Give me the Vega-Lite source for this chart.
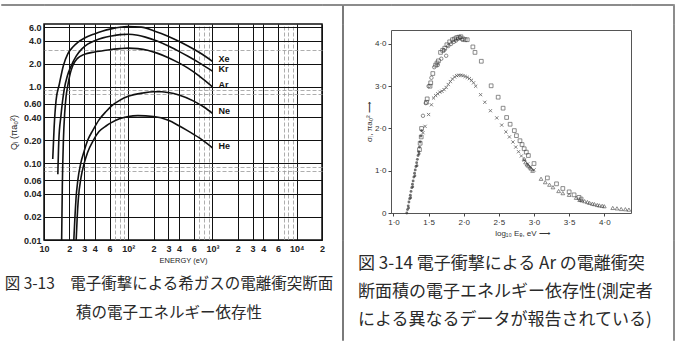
{
  "$schema": "https://vega.github.io/schema/vega-lite/v6.json",
  "padding": {"left": 0, "top": 3, "right": 0, "bottom": 0},
  "columns": 8,
  "spacing": 0,
  "bounds": "flush",
  "align": "each",
  "config": {
    "view": {"stroke": null},
    "axis": {"labelFont": "Liberation Sans", "titleFont": "Liberation Sans"}
  },
  "concat": [
    {"width": 43, "height": 1, "data": {"values": [{}]}, "mark": {"type": "text", "text": "", "fontSize": 0}, "encoding": {}, "view": {"stroke": "#8c8c8c"}},
    {"width": 278, "height": 1, "data": {"values": [{}]}, "mark": {"type": "text", "text": "", "fontSize": 0}, "encoding": {}, "view": {"stroke": "#8c8c8c"}},
    {"width": 20, "height": 1, "data": {"values": [{}]}, "mark": {"type": "text", "text": "", "fontSize": 0}, "encoding": {}, "view": {"stroke": "#8c8c8c"}},
    {"width": 1, "height": 1, "data": {"values": [{}]}, "mark": {"type": "text", "text": "", "fontSize": 0}, "encoding": {}, "view": {"stroke": "#8c8c8c"}},
    {"width": 48, "height": 1, "data": {"values": [{}]}, "mark": {"type": "text", "text": "", "fontSize": 0}, "encoding": {}, "view": {"stroke": "#8c8c8c"}},
    {"width": 240, "height": 1, "data": {"values": [{}]}, "mark": {"type": "text", "text": "", "fontSize": 0}, "encoding": {}, "view": {"stroke": "#8c8c8c"}},
    {"width": 42, "height": 1, "data": {"values": [{}]}, "mark": {"type": "text", "text": "", "fontSize": 0}, "encoding": {}, "view": {"stroke": "#8c8c8c"}},
    {"width": 1, "height": 1, "data": {"values": [{}]}, "mark": {"type": "text", "text": "", "fontSize": 0}, "encoding": {}, "view": {"stroke": "#8c8c8c"}},

    {"width": 43, "height": 19, "data": {"values": [{}]}, "mark": {"type": "text", "text": "", "fontSize": 0}, "encoding": {}},
    {"width": 278, "height": 19, "data": {"values": [{}]}, "mark": {"type": "text", "text": "", "fontSize": 0}, "encoding": {}},
    {"width": 20, "height": 19, "data": {"values": [{}]}, "mark": {"type": "text", "text": "", "fontSize": 0}, "encoding": {}},
    {"width": 1, "height": 19, "data": {"values": [{}]}, "mark": {"type": "text", "text": "", "fontSize": 0}, "encoding": {}, "view": {"stroke": "#7a7a7a"}},
    {"width": 48, "height": 19, "data": {"values": [{}]}, "mark": {"type": "text", "text": "", "fontSize": 0}, "encoding": {}},
    {"width": 240, "height": 19, "data": {"values": [{}]}, "mark": {"type": "text", "text": "", "fontSize": 0}, "encoding": {}},
    {"width": 42, "height": 19, "data": {"values": [{}]}, "mark": {"type": "text", "text": "", "fontSize": 0}, "encoding": {}},
    {"width": 1, "height": 19, "data": {"values": [{}]}, "mark": {"type": "text", "text": "", "fontSize": 0}, "encoding": {}, "view": {"stroke": "#8c8c8c"}},

    {"width": 43, "height": 216, "data": {"values": [{}]}, "mark": {"type": "text", "text": "", "fontSize": 0}, "encoding": {}},
    {
      "width": 278,
      "height": 216,
      "view": {"stroke": "#111", "strokeWidth": 1.5},
      "title": {
        "text": ["図 3-13　電子衝撃による希ガスの電離衝突断面", "積の電子エネルギー依存性"],
        "orient": "bottom", "anchor": "middle", "frame": "group", "dx": -14, "offset": 13,
        "font": "Noto Sans CJK JP", "fontSize": 15.5, "fontWeight": "normal", "lineHeight": 29, "color": "#2a2a2a"
      },
      "data": {"values": [
        {"gas": "Xe", "E": 12.7, "Q": 0.114}, {"gas": "Xe", "E": 13.2, "Q": 0.3}, {"gas": "Xe", "E": 13.9, "Q": 0.66}, {"gas": "Xe", "E": 15.2, "Q": 1.08}, {"gas": "Xe", "E": 17, "Q": 1.9}, {"gas": "Xe", "E": 19.1, "Q": 2.67}, {"gas": "Xe", "E": 22, "Q": 3.3}, {"gas": "Xe", "E": 25.2, "Q": 3.8}, {"gas": "Xe", "E": 30, "Q": 4.3}, {"gas": "Xe", "E": 39.7, "Q": 4.9}, {"gas": "Xe", "E": 50, "Q": 5.35}, {"gas": "Xe", "E": 62.7, "Q": 5.7}, {"gas": "Xe", "E": 80, "Q": 6.0}, {"gas": "Xe", "E": 99, "Q": 6.1}, {"gas": "Xe", "E": 143, "Q": 6.0}, {"gas": "Xe", "E": 200, "Q": 5.4}, {"gas": "Xe", "E": 247, "Q": 4.95}, {"gas": "Xe", "E": 350, "Q": 4.2}, {"gas": "Xe", "E": 513, "Q": 3.4}, {"gas": "Xe", "E": 700, "Q": 2.8}, {"gas": "Xe", "E": 1000, "Q": 2.15},
        {"gas": "Kr", "E": 14.6, "Q": 0.072}, {"gas": "Kr", "E": 15.0, "Q": 0.2}, {"gas": "Kr", "E": 15.9, "Q": 0.42}, {"gas": "Kr", "E": 17.4, "Q": 0.93}, {"gas": "Kr", "E": 19, "Q": 1.4}, {"gas": "Kr", "E": 20.9, "Q": 1.85}, {"gas": "Kr", "E": 24, "Q": 2.5}, {"gas": "Kr", "E": 28, "Q": 3.1}, {"gas": "Kr", "E": 33, "Q": 3.6}, {"gas": "Kr", "E": 40, "Q": 4.0}, {"gas": "Kr", "E": 50, "Q": 4.35}, {"gas": "Kr", "E": 62.7, "Q": 4.6}, {"gas": "Kr", "E": 80, "Q": 4.8}, {"gas": "Kr", "E": 100, "Q": 4.85}, {"gas": "Kr", "E": 130, "Q": 4.7}, {"gas": "Kr", "E": 160, "Q": 4.45}, {"gas": "Kr", "E": 220, "Q": 3.95}, {"gas": "Kr", "E": 300, "Q": 3.4}, {"gas": "Kr", "E": 400, "Q": 2.9}, {"gas": "Kr", "E": 513, "Q": 2.5}, {"gas": "Kr", "E": 700, "Q": 2.05}, {"gas": "Kr", "E": 1000, "Q": 1.6},
        {"gas": "Ar", "E": 16.2, "Q": 0.01}, {"gas": "Ar", "E": 16.5, "Q": 0.05}, {"gas": "Ar", "E": 17, "Q": 0.2}, {"gas": "Ar", "E": 17.6, "Q": 0.45}, {"gas": "Ar", "E": 18.3, "Q": 0.75}, {"gas": "Ar", "E": 19.2, "Q": 1.05}, {"gas": "Ar", "E": 20.5, "Q": 1.5}, {"gas": "Ar", "E": 22, "Q": 1.9}, {"gas": "Ar", "E": 25, "Q": 2.35}, {"gas": "Ar", "E": 30, "Q": 2.65}, {"gas": "Ar", "E": 40, "Q": 2.85}, {"gas": "Ar", "E": 50, "Q": 2.95}, {"gas": "Ar", "E": 60, "Q": 3.05}, {"gas": "Ar", "E": 80, "Q": 3.15}, {"gas": "Ar", "E": 100, "Q": 3.2}, {"gas": "Ar", "E": 130, "Q": 3.15}, {"gas": "Ar", "E": 170, "Q": 3.0}, {"gas": "Ar", "E": 220, "Q": 2.75}, {"gas": "Ar", "E": 300, "Q": 2.4}, {"gas": "Ar", "E": 400, "Q": 2.05}, {"gas": "Ar", "E": 513, "Q": 1.75}, {"gas": "Ar", "E": 700, "Q": 1.38}, {"gas": "Ar", "E": 1000, "Q": 1.0},
        {"gas": "Ne", "E": 22.6, "Q": 0.01}, {"gas": "Ne", "E": 23.3, "Q": 0.02}, {"gas": "Ne", "E": 24.0, "Q": 0.035}, {"gas": "Ne", "E": 25.2, "Q": 0.06}, {"gas": "Ne", "E": 27.3, "Q": 0.1}, {"gas": "Ne", "E": 30, "Q": 0.145}, {"gas": "Ne", "E": 33, "Q": 0.2}, {"gas": "Ne", "E": 38, "Q": 0.27}, {"gas": "Ne", "E": 45, "Q": 0.37}, {"gas": "Ne", "E": 55, "Q": 0.48}, {"gas": "Ne", "E": 63, "Q": 0.56}, {"gas": "Ne", "E": 80, "Q": 0.67}, {"gas": "Ne", "E": 100, "Q": 0.75}, {"gas": "Ne", "E": 150, "Q": 0.83}, {"gas": "Ne", "E": 200, "Q": 0.86}, {"gas": "Ne", "E": 250, "Q": 0.86}, {"gas": "Ne", "E": 300, "Q": 0.84}, {"gas": "Ne", "E": 400, "Q": 0.78}, {"gas": "Ne", "E": 600, "Q": 0.65}, {"gas": "Ne", "E": 800, "Q": 0.54}, {"gas": "Ne", "E": 1000, "Q": 0.45},
        {"gas": "He", "E": 24.1, "Q": 0.01}, {"gas": "He", "E": 24.8, "Q": 0.02}, {"gas": "He", "E": 25.6, "Q": 0.035}, {"gas": "He", "E": 27.5, "Q": 0.065}, {"gas": "He", "E": 30, "Q": 0.1}, {"gas": "He", "E": 33, "Q": 0.14}, {"gas": "He", "E": 38.5, "Q": 0.2}, {"gas": "He", "E": 45, "Q": 0.26}, {"gas": "He", "E": 55, "Q": 0.31}, {"gas": "He", "E": 63, "Q": 0.34}, {"gas": "He", "E": 80, "Q": 0.385}, {"gas": "He", "E": 100, "Q": 0.41}, {"gas": "He", "E": 130, "Q": 0.42}, {"gas": "He", "E": 200, "Q": 0.41}, {"gas": "He", "E": 300, "Q": 0.365}, {"gas": "He", "E": 400, "Q": 0.31}, {"gas": "He", "E": 500, "Q": 0.27}, {"gas": "He", "E": 700, "Q": 0.215}, {"gas": "He", "E": 1000, "Q": 0.16}
      ]},
      "resolve": {"axis": {"x": "independent", "y": "independent"}},
      "layer": [
        {
          "mark": {"type": "line", "interpolate": "monotone", "color": "#111", "strokeWidth": 1.6, "clip": true},
          "encoding": {
            "x": {"field": "E", "type": "quantitative",
              "scale": {"type": "log", "domain": [10, 20000], "nice": false},
              "axis": {"values": [10, 20, 30, 40, 60, 100, 200, 300, 400, 600, 1000, 2000, 3000, 4000, 6000, 10000, 20000],
                "labelExpr": "datum.value == 10 ? '10' : datum.value == 100 ? '10²' : datum.value == 1000 ? '10³' : datum.value == 10000 ? '10⁴' : substring(toString(datum.value), 0, 1)",
                "grid": true, "gridColor": "#111", "gridWidth": 1, "gridOpacity": 1, "ticks": false, "domain": false,
                "labelFontSize": 9, "labelFontWeight": "bold", "labelColor": "#222", "labelPadding": 4, "labelFlush": false, "labelOverlap": false,
                "title": "ENERGY (eV)", "titleFontSize": 7.5, "titleFontWeight": "normal", "titleColor": "#222", "titlePadding": 3}},
            "y": {"field": "Q", "type": "quantitative",
              "scale": {"type": "log", "domain": [0.01, 6.6], "nice": false},
              "axis": {"values": [0.01, 0.02, 0.04, 0.06, 0.1, 0.2, 0.4, 0.6, 1, 2, 4, 6],
                "labelExpr": "datum.value < 1 ? format(datum.value, '.2f') : format(datum.value, '.1f')",
                "grid": true, "gridColor": "#111", "gridWidth": 1, "gridOpacity": 1, "ticks": false, "domain": false,
                "labelFontSize": 9, "labelFontWeight": "bold", "labelColor": "#222", "labelPadding": 3, "labelOverlap": false,
                "title": "Qᵢ (πa₀²)", "titleFontSize": 9, "titleFontWeight": "normal", "titleColor": "#222", "titlePadding": 5}},
            "detail": {"field": "gas"}
          }
        },
        {
          "transform": [{"filter": "datum.E == 1000"}],
          "mark": {"type": "text", "align": "left", "dx": 6, "dy": -2, "font": "Liberation Sans", "fontSize": 9, "fontWeight": "bold", "color": "#111"},
          "encoding": {
            "x": {"field": "E", "type": "quantitative",
              "axis": {"orient": "top", "values": [70, 80, 90, 700, 800, 900, 7000, 8000, 9000], "grid": true, "gridColor": "#999", "gridDash": [4, 2], "gridWidth": 0.8, "labels": false, "ticks": false, "domain": false, "title": null, "minExtent": 0, "maxExtent": 0, "labelPadding": 0, "offset": 0}},
            "y": {"field": "Q", "type": "quantitative",
              "axis": {"orient": "right", "values": [0.08, 0.09, 0.8, 0.9, 3], "grid": true, "gridColor": "#999", "gridDash": [4, 2], "gridWidth": 0.8, "labels": false, "ticks": false, "domain": false, "title": null, "minExtent": 0, "maxExtent": 0, "labelPadding": 0, "offset": 0}},
            "text": {"field": "gas"}
          }
        }
      ]
    },
    {"width": 20, "height": 216, "data": {"values": [{}]}, "mark": {"type": "text", "text": "", "fontSize": 0}, "encoding": {}},
    {"width": 1, "height": 216, "data": {"values": [{}]}, "mark": {"type": "text", "text": "", "fontSize": 0}, "encoding": {}, "view": {"stroke": "#7a7a7a"}},
    {"width": 48, "height": 216, "data": {"values": [{}]}, "mark": {"type": "text", "text": "", "fontSize": 0}, "encoding": {}},
    {
      "vconcat": [
        {"width": 240, "height": 1, "data": {"values": [{}]}, "mark": {"type": "text", "text": "", "fontSize": 0}, "encoding": {}},
        {
          "width": 240,
          "height": 183,
          "view": {"stroke": "#555", "strokeWidth": 1},
          "title": {
            "text": ["図 3-14  電子衝撃による Ar の電離衝突", "断面積の電子エネルギー依存性(測定者", "による異なるデータが報告されている)"],
            "orient": "bottom", "anchor": "start", "frame": "group", "dx": -33, "offset": 19,
            "font": "Noto Sans CJK JP", "fontSize": 17, "fontWeight": "normal", "lineHeight": 28, "color": "#2a2a2a"
          },
          "data": {"values": [
            {"s": "dot", "X": 1.19, "Y": 0}, {"s": "dot", "X": 1.2, "Y": 0.08}, {"s": "dot", "X": 1.21, "Y": 0.17}, {"s": "dot", "X": 1.215, "Y": 0.12}, {"s": "dot", "X": 1.22, "Y": 0.26}, {"s": "dot", "X": 1.23, "Y": 0.34}, {"s": "dot", "X": 1.24, "Y": 0.42}, {"s": "dot", "X": 1.245, "Y": 0.36}, {"s": "dot", "X": 1.25, "Y": 0.51}, {"s": "dot", "X": 1.26, "Y": 0.6}, {"s": "dot", "X": 1.27, "Y": 0.68}, {"s": "dot", "X": 1.275, "Y": 0.62}, {"s": "dot", "X": 1.28, "Y": 0.76}, {"s": "dot", "X": 1.29, "Y": 0.85}, {"s": "dot", "X": 1.3, "Y": 0.94}, {"s": "dot", "X": 1.305, "Y": 0.88}, {"s": "dot", "X": 1.31, "Y": 1.02}, {"s": "dot", "X": 1.32, "Y": 1.1}, {"s": "dot", "X": 1.33, "Y": 1.19}, {"s": "dot", "X": 1.335, "Y": 1.12}, {"s": "dot", "X": 1.34, "Y": 1.27}, {"s": "dot", "X": 1.35, "Y": 1.36}, {"s": "dot", "X": 1.36, "Y": 1.45}, {"s": "dot", "X": 1.365, "Y": 1.4}, {"s": "dot", "X": 1.37, "Y": 1.56}, {"s": "dot", "X": 1.38, "Y": 1.68}, {"s": "dot", "X": 1.39, "Y": 1.82}, {"s": "dot", "X": 1.4, "Y": 1.95},
            {"s": "sq", "X": 1.37, "Y": 1.5}, {"s": "sq", "X": 1.38, "Y": 1.65}, {"s": "sq", "X": 1.395, "Y": 1.8}, {"s": "sq", "X": 1.4, "Y": 2.0}, {"s": "sq", "X": 1.47, "Y": 2.62}, {"s": "sq", "X": 1.48, "Y": 2.7}, {"s": "sq", "X": 1.52, "Y": 3.0}, {"s": "sq", "X": 1.53, "Y": 3.08}, {"s": "sq", "X": 1.56, "Y": 3.3}, {"s": "sq", "X": 1.6, "Y": 3.5}, {"s": "sq", "X": 1.62, "Y": 3.55}, {"s": "sq", "X": 1.64, "Y": 3.6}, {"s": "sq", "X": 1.67, "Y": 3.8}, {"s": "sq", "X": 1.7, "Y": 3.85}, {"s": "sq", "X": 1.73, "Y": 3.9}, {"s": "sq", "X": 1.76, "Y": 3.98}, {"s": "sq", "X": 1.8, "Y": 4.05}, {"s": "sq", "X": 1.84, "Y": 4.1}, {"s": "sq", "X": 1.87, "Y": 4.12}, {"s": "sq", "X": 1.9, "Y": 4.15}, {"s": "sq", "X": 1.93, "Y": 4.16}, {"s": "sq", "X": 1.96, "Y": 4.17}, {"s": "sq", "X": 1.99, "Y": 4.12}, {"s": "sq", "X": 2.02, "Y": 4.1}, {"s": "sq", "X": 2.05, "Y": 4.1}, {"s": "sq", "X": 2.13, "Y": 3.93}, {"s": "sq", "X": 2.16, "Y": 3.8}, {"s": "sq", "X": 2.25, "Y": 3.59}, {"s": "sq", "X": 2.39, "Y": 3.01}, {"s": "sq", "X": 2.49, "Y": 2.74}, {"s": "sq", "X": 2.56, "Y": 2.48}, {"s": "sq", "X": 2.61, "Y": 2.26}, {"s": "sq", "X": 2.66, "Y": 2.1}, {"s": "sq", "X": 2.72, "Y": 1.95}, {"s": "sq", "X": 2.75, "Y": 1.83}, {"s": "sq", "X": 2.8, "Y": 1.71}, {"s": "sq", "X": 2.83, "Y": 1.62}, {"s": "sq", "X": 2.86, "Y": 1.52}, {"s": "sq", "X": 2.89, "Y": 1.44}, {"s": "sq", "X": 2.92, "Y": 1.36}, {"s": "sq", "X": 3.0, "Y": 1.17}, {"s": "sq", "X": 3.19, "Y": 0.83}, {"s": "sq", "X": 3.32, "Y": 0.69}, {"s": "sq", "X": 3.41, "Y": 0.58}, {"s": "sq", "X": 3.5, "Y": 0.5}, {"s": "sq", "X": 3.57, "Y": 0.43}, {"s": "sq", "X": 3.64, "Y": 0.37}, {"s": "sq", "X": 3.67, "Y": 0.33},
            {"s": "ci", "X": 1.42, "Y": 2.3}, {"s": "ci", "X": 1.46, "Y": 2.6}, {"s": "ci", "X": 1.5, "Y": 3.0}, {"s": "ci", "X": 1.54, "Y": 3.2}, {"s": "ci", "X": 1.58, "Y": 3.45}, {"s": "ci", "X": 1.63, "Y": 3.5}, {"s": "ci", "X": 1.68, "Y": 3.65}, {"s": "ci", "X": 1.72, "Y": 3.85}, {"s": "ci", "X": 1.75, "Y": 3.72}, {"s": "ci", "X": 1.78, "Y": 3.95}, {"s": "ci", "X": 1.82, "Y": 4.0}, {"s": "ci", "X": 1.86, "Y": 4.05}, {"s": "ci", "X": 1.89, "Y": 4.08}, {"s": "ci", "X": 1.92, "Y": 4.12}, {"s": "ci", "X": 1.95, "Y": 4.15}, {"s": "ci", "X": 1.98, "Y": 4.1},
            {"s": "x", "X": 1.42, "Y": 1.9}, {"s": "x", "X": 1.45, "Y": 2.05}, {"s": "x", "X": 1.5, "Y": 2.33}, {"s": "x", "X": 1.54, "Y": 2.56}, {"s": "x", "X": 1.57, "Y": 2.72}, {"s": "x", "X": 1.6, "Y": 2.78}, {"s": "x", "X": 1.63, "Y": 2.82}, {"s": "x", "X": 1.66, "Y": 2.86}, {"s": "x", "X": 1.69, "Y": 2.88}, {"s": "x", "X": 1.72, "Y": 2.92}, {"s": "x", "X": 1.75, "Y": 2.97}, {"s": "x", "X": 1.78, "Y": 3.04}, {"s": "x", "X": 1.81, "Y": 3.11}, {"s": "x", "X": 1.84, "Y": 3.17}, {"s": "x", "X": 1.87, "Y": 3.22}, {"s": "x", "X": 1.9, "Y": 3.25}, {"s": "x", "X": 1.93, "Y": 3.26}, {"s": "x", "X": 1.96, "Y": 3.26}, {"s": "x", "X": 1.99, "Y": 3.25}, {"s": "x", "X": 2.02, "Y": 3.23}, {"s": "x", "X": 2.05, "Y": 3.21}, {"s": "x", "X": 2.08, "Y": 3.18}, {"s": "x", "X": 2.11, "Y": 3.14}, {"s": "x", "X": 2.14, "Y": 3.08}, {"s": "x", "X": 2.17, "Y": 3.0}, {"s": "x", "X": 2.24, "Y": 2.8}, {"s": "x", "X": 2.3, "Y": 2.62}, {"s": "x", "X": 2.38, "Y": 2.42}, {"s": "x", "X": 2.47, "Y": 2.25}, {"s": "x", "X": 2.54, "Y": 2.08}, {"s": "x", "X": 2.6, "Y": 1.92}, {"s": "x", "X": 2.65, "Y": 1.8}, {"s": "x", "X": 2.7, "Y": 1.68}, {"s": "x", "X": 2.74, "Y": 1.56}, {"s": "x", "X": 2.78, "Y": 1.45}, {"s": "x", "X": 2.82, "Y": 1.35}, {"s": "x", "X": 2.86, "Y": 1.25}, {"s": "x", "X": 2.91, "Y": 1.16}, {"s": "x", "X": 2.95, "Y": 1.09}, {"s": "x", "X": 3.0, "Y": 1.02},
            {"s": "tri", "X": 2.86, "Y": 1.28}, {"s": "tri", "X": 2.88, "Y": 1.2}, {"s": "tri", "X": 2.9, "Y": 1.15}, {"s": "tri", "X": 2.92, "Y": 1.12}, {"s": "tri", "X": 2.94, "Y": 1.08}, {"s": "tri", "X": 2.96, "Y": 1.05}, {"s": "tri", "X": 2.98, "Y": 1.0}, {"s": "tri", "X": 3.1, "Y": 0.81}, {"s": "tri", "X": 3.16, "Y": 0.73}, {"s": "tri", "X": 3.22, "Y": 0.67}, {"s": "tri", "X": 3.27, "Y": 0.61}, {"s": "tri", "X": 3.35, "Y": 0.52}, {"s": "tri", "X": 3.41, "Y": 0.47}, {"s": "tri", "X": 3.5, "Y": 0.43}, {"s": "tri", "X": 3.6, "Y": 0.36}, {"s": "tri", "X": 3.65, "Y": 0.31}, {"s": "tri", "X": 3.68, "Y": 0.3}, {"s": "tri", "X": 3.72, "Y": 0.28}, {"s": "tri", "X": 3.76, "Y": 0.26}, {"s": "tri", "X": 3.79, "Y": 0.24}, {"s": "tri", "X": 3.83, "Y": 0.22}, {"s": "tri", "X": 3.86, "Y": 0.21}, {"s": "tri", "X": 3.9, "Y": 0.19}, {"s": "tri", "X": 3.93, "Y": 0.18}, {"s": "tri", "X": 3.97, "Y": 0.17}, {"s": "tri", "X": 4.0, "Y": 0.16}, {"s": "tri", "X": 4.12, "Y": 0.12}, {"s": "tri", "X": 4.18, "Y": 0.11}, {"s": "tri", "X": 4.24, "Y": 0.095}, {"s": "tri", "X": 4.3, "Y": 0.09}, {"s": "tri", "X": 4.35, "Y": 0.08}
          ]},
          "encoding": {
            "x": {"field": "X", "type": "quantitative",
              "scale": {"domain": [0.965, 4.38], "nice": false, "zero": false},
              "axis": {"values": [1, 1.5, 2, 2.5, 3, 3.5, 4],
                "labelExpr": "replace(format(datum.value, '.1f'), '.', '·')",
                "grid": false, "ticks": true, "tickSize": 3, "tickColor": "#444", "domain": false,
                "labelFontSize": 8, "labelColor": "#333", "labelPadding": 2,
                "title": "log₁₀ Eₑ, eV  ⟶", "titleFontSize": 8, "titleFontWeight": "normal", "titleColor": "#333", "titlePadding": 3, "titleX": 131}},
            "y": {"field": "Y", "type": "quantitative",
              "scale": {"domain": [0, 4.33], "nice": false},
              "axis": {"values": [0, 1, 2, 3, 4],
                "labelExpr": "datum.value == 0 ? '0' : replace(format(datum.value, '.1f'), '.', '·')",
                "grid": false, "ticks": true, "tickSize": 3, "tickColor": "#444", "domain": false,
                "labelFontSize": 8, "labelColor": "#333", "labelPadding": 2,
                "title": "σᵢ, πa₀²  ⟶", "titleFontSize": 8, "titleFontWeight": "normal", "titleColor": "#333", "titlePadding": 1}}
          },
          "layer": [
            {"transform": [{"filter": "datum.s == 'dot'"}], "mark": {"type": "point", "shape": "circle", "filled": true, "size": 8, "color": "#333"}},
            {"transform": [{"filter": "datum.s == 'sq'"}], "mark": {"type": "point", "shape": "square", "filled": false, "size": 14, "color": "#333", "strokeWidth": 0.8}},
            {"transform": [{"filter": "datum.s == 'ci'"}], "mark": {"type": "point", "shape": "circle", "filled": false, "size": 12, "color": "#333", "strokeWidth": 0.8}},
            {"transform": [{"filter": "datum.s == 'x'"}], "mark": {"type": "point", "shape": "M-1,-1L1,1M-1,1L1,-1", "filled": false, "size": 10, "color": "#333", "strokeWidth": 0.9}},
            {"transform": [{"filter": "datum.s == 'tri'"}], "mark": {"type": "point", "shape": "triangle-up", "filled": false, "size": 14, "color": "#333", "strokeWidth": 0.8}},
            {"data": {"values": [{}]}, "mark": {"type": "text", "text": "Ar", "fontSize": 9, "font": "Liberation Sans", "color": "#333"}, "encoding": {"x": {"datum": 3.74}, "y": {"datum": 1.0}}}
          ]
        }
      ],
      "spacing": 5,
      "bounds": "flush"
    },
    {"width": 42, "height": 216, "data": {"values": [{}]}, "mark": {"type": "text", "text": "", "fontSize": 0}, "encoding": {}},
    {"width": 1, "height": 216, "data": {"values": [{}]}, "mark": {"type": "text", "text": "", "fontSize": 0}, "encoding": {}, "view": {"stroke": "#8c8c8c"}},

    {"width": 43, "height": 100, "data": {"values": [{}]}, "mark": {"type": "text", "text": "", "fontSize": 0}, "encoding": {}},
    {"width": 278, "height": 100, "data": {"values": [{}]}, "mark": {"type": "text", "text": "", "fontSize": 0}, "encoding": {}},
    {"width": 20, "height": 100, "data": {"values": [{}]}, "mark": {"type": "text", "text": "", "fontSize": 0}, "encoding": {}},
    {"width": 1, "height": 100, "data": {"values": [{}]}, "mark": {"type": "text", "text": "", "fontSize": 0}, "encoding": {}, "view": {"stroke": "#7a7a7a"}},
    {"width": 48, "height": 100, "data": {"values": [{}]}, "mark": {"type": "text", "text": "", "fontSize": 0}, "encoding": {}},
    {"width": 240, "height": 100, "data": {"values": [{}]}, "mark": {"type": "text", "text": "", "fontSize": 0}, "encoding": {}},
    {"width": 42, "height": 100, "data": {"values": [{}]}, "mark": {"type": "text", "text": "", "fontSize": 0}, "encoding": {}},
    {"width": 1, "height": 100, "data": {"values": [{}]}, "mark": {"type": "text", "text": "", "fontSize": 0}, "encoding": {}, "view": {"stroke": "#8c8c8c"}}
  ]
}
